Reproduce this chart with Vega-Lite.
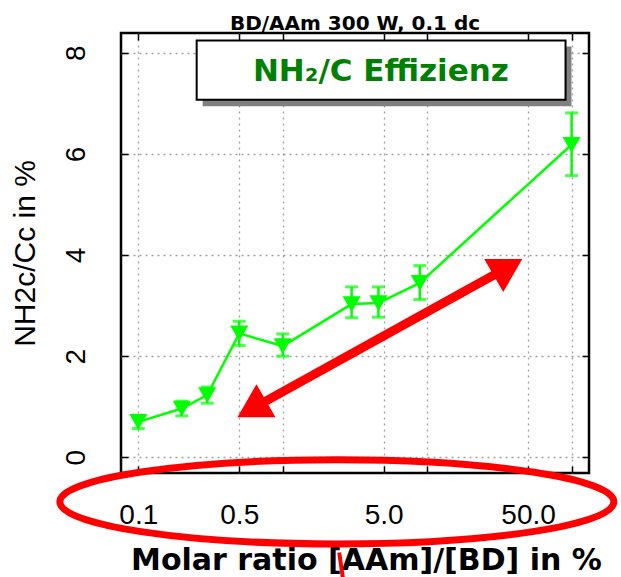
{
  "$schema": "https://vega.github.io/schema/vega-lite/v6.json",
  "width": 468,
  "height": 440,
  "autosize": {"type": "none"},
  "padding": {"left": 121, "top": 33, "right": 32, "bottom": 104},
  "background": "white",
  "title": {
    "text": "BD/AAm 300 W, 0.1 dc",
    "font": "DejaVu Sans",
    "fontWeight": "bold",
    "fontSize": 20,
    "color": "black",
    "anchor": "middle",
    "baseline": "alphabetic",
    "offset": 5,
    "dy": 23
  },
  "config": {
    "view": {"stroke": "black", "strokeWidth": 2.5},
    "axis": {
      "labelColor": "black",
      "titleColor": "black",
      "tickColor": "black",
      "tickWidth": 1.5,
      "domain": false,
      "gridColor": "#a0a0a0",
      "gridDash": [2, 4],
      "gridWidth": 1.3
    }
  },
  "resolve": {"axis": {"x": "independent", "y": "independent"}},
  "datasets": {
    "pts": [
      {"ratio": 0.1, "eff": 0.70, "lo": 0.57, "hi": 0.83},
      {"ratio": 0.2, "eff": 0.965, "lo": 0.82, "hi": 1.11},
      {"ratio": 0.3, "eff": 1.23, "lo": 1.07, "hi": 1.39},
      {"ratio": 0.5, "eff": 2.45, "lo": 2.21, "hi": 2.69},
      {"ratio": 1.0, "eff": 2.2, "lo": 2.0, "hi": 2.44},
      {"ratio": 3.0, "eff": 3.03, "lo": 2.76, "hi": 3.37},
      {"ratio": 4.6, "eff": 3.05, "lo": 2.77, "hi": 3.37},
      {"ratio": 8.9, "eff": 3.45, "lo": 3.12, "hi": 3.79},
      {"ratio": 100, "eff": 6.18, "lo": 5.57, "hi": 6.81}
    ],
    "shadow": [{"x1": 0.279, "x2": 99.8, "y1": 6.941, "y2": 8.123}],
    "box": [{"x1": 0.2536, "x2": 90.8, "y1": 7.069, "y2": 8.241}],
    "label": [{"x": 4.78, "y": 7.445, "text": "NH₂/C Effizienz"}],
    "arrow": [{"x1": 0.61, "y1": 0.957, "x2": 36.3, "y2": 3.757}],
    "heads": [
      {"end": "low", "x": 0.61, "y": 0.957},
      {"end": "high", "x": 36.3, "y": 3.757}
    ],
    "ellipse": [{"x": 2.37, "y": -0.88}],
    "stroke": [{"x1": 2.46, "x2": 2.62, "y1": -1.883, "y2": -2.42}]
  },
  "layer": [
    {
      "data": {"name": "pts"},
      "mark": {"type": "line", "color": "#00ff00", "strokeWidth": 2.5},
      "encoding": {
        "x": {
          "field": "ratio",
          "type": "quantitative",
          "scale": {"type": "log", "domain": [0.0759, 132], "nice": false},
          "axis": {
            "orient": "bottom",
            "values": [0.1, 0.5, 1, 5, 10, 50, 100],
            "labelExpr": "indexof([0.1, 0.5, 5, 50], datum.value) >= 0 ? format(datum.value, '.1f') : ''",
            "labelFont": "Liberation Sans",
            "labelFontSize": 28,
            "labelPadding": 35,
            "labelFlush": false,
            "labelOverlap": false,
            "tickSize": -7,
            "grid": true,
            "title": "Molar ratio [AAm]/[BD] in %",
            "titleFont": "DejaVu Sans",
            "titleFontWeight": "bold",
            "titleFontSize": 30,
            "titlePadding": 16,
            "titleX": 245
          }
        },
        "y": {
          "field": "eff",
          "type": "quantitative",
          "scale": {"domain": [-0.31, 8.39], "nice": false, "zero": false},
          "axis": {
            "orient": "left",
            "values": [0, 2, 4, 6, 8],
            "labelAngle": -90,
            "labelAlign": "center",
            "labelBaseline": "alphabetic",
            "labelFont": "Liberation Sans",
            "labelFontSize": 28,
            "labelPadding": 44,
            "tickSize": -7,
            "grid": true,
            "title": "NH2c/Cc in %",
            "titleFont": "Liberation Sans",
            "titleFontWeight": "normal",
            "titleFontSize": 30,
            "titlePadding": 22
          }
        }
      }
    },
    {
      "data": {"name": "pts"},
      "mark": {"type": "point", "opacity": 0},
      "encoding": {
        "x": {
          "field": "ratio",
          "type": "quantitative",
          "axis": {"orient": "top", "values": [0.1, 0.5, 1, 5, 10, 50, 100], "labels": false, "grid": false, "tickSize": -7, "title": null}
        },
        "y": {
          "field": "eff",
          "type": "quantitative",
          "axis": {"orient": "right", "values": [0, 2, 4, 6, 8], "labels": false, "grid": false, "tickSize": -7, "title": null}
        }
      }
    },
    {
      "data": {"name": "shadow"},
      "mark": {"type": "rect", "color": "#808080"},
      "encoding": {
        "x": {"field": "x1", "type": "quantitative", "axis": null},
        "x2": {"field": "x2"},
        "y": {"field": "y1", "type": "quantitative", "axis": null},
        "y2": {"field": "y2"}
      }
    },
    {
      "data": {"name": "box"},
      "mark": {"type": "rect", "fill": "white", "stroke": "black", "strokeWidth": 2},
      "encoding": {
        "x": {"field": "x1", "type": "quantitative", "axis": null},
        "x2": {"field": "x2"},
        "y": {"field": "y1", "type": "quantitative", "axis": null},
        "y2": {"field": "y2"}
      }
    },
    {
      "data": {"name": "label"},
      "mark": {"type": "text", "color": "#008000", "font": "DejaVu Sans", "fontWeight": "bold", "fontSize": 31, "align": "center", "baseline": "alphabetic"},
      "encoding": {
        "x": {"field": "x", "type": "quantitative", "axis": null},
        "y": {"field": "y", "type": "quantitative", "axis": null},
        "text": {"field": "text"}
      }
    },
    {
      "data": {"name": "pts"},
      "mark": {"type": "rule", "color": "#00ff00", "strokeWidth": 2.5},
      "encoding": {
        "x": {"field": "ratio", "type": "quantitative", "axis": null},
        "y": {"field": "lo", "type": "quantitative", "axis": null},
        "y2": {"field": "hi"}
      }
    },
    {
      "data": {"name": "pts"},
      "mark": {"type": "tick", "color": "#00ff00", "orient": "horizontal", "size": 13, "thickness": 3},
      "encoding": {
        "x": {"field": "ratio", "type": "quantitative", "axis": null},
        "y": {"field": "lo", "type": "quantitative", "axis": null}
      }
    },
    {
      "data": {"name": "pts"},
      "mark": {"type": "tick", "color": "#00ff00", "orient": "horizontal", "size": 13, "thickness": 3},
      "encoding": {
        "x": {"field": "ratio", "type": "quantitative", "axis": null},
        "y": {"field": "hi", "type": "quantitative", "axis": null}
      }
    },
    {
      "data": {"name": "pts"},
      "mark": {"type": "point", "shape": "triangle-down", "filled": true, "color": "#00ff00", "size": 330, "opacity": 1},
      "encoding": {
        "x": {"field": "ratio", "type": "quantitative", "axis": null},
        "y": {"field": "eff", "type": "quantitative", "axis": null}
      }
    },
    {
      "data": {"name": "arrow"},
      "mark": {"type": "rule", "color": "#ff0000", "strokeWidth": 9},
      "encoding": {
        "x": {"field": "x1", "type": "quantitative", "axis": null},
        "y": {"field": "y1", "type": "quantitative", "axis": null},
        "x2": {"field": "x2"},
        "y2": {"field": "y2"}
      }
    },
    {
      "data": {"name": "heads"},
      "transform": [{"filter": "datum.end === 'high'"}],
      "mark": {"type": "point", "shape": "triangle-up", "filled": true, "color": "#ff0000", "opacity": 1, "size": 1450, "angle": 60},
      "encoding": {
        "x": {"field": "x", "type": "quantitative", "axis": null},
        "y": {"field": "y", "type": "quantitative", "axis": null}
      }
    },
    {
      "data": {"name": "heads"},
      "transform": [{"filter": "datum.end === 'low'"}],
      "mark": {"type": "point", "shape": "triangle-up", "filled": true, "color": "#ff0000", "opacity": 1, "size": 1450, "angle": 240},
      "encoding": {
        "x": {"field": "x", "type": "quantitative", "axis": null},
        "y": {"field": "y", "type": "quantitative", "axis": null}
      }
    },
    {
      "data": {"name": "ellipse"},
      "mark": {"type": "point", "shape": "M-1,0A1,0.152,0,1,0,1,0A1,0.152,0,1,0,-1,0Z", "filled": false, "stroke": "#ff0000", "strokeWidth": 7, "opacity": 1, "size": 306916},
      "encoding": {
        "x": {"field": "x", "type": "quantitative", "axis": null},
        "y": {"field": "y", "type": "quantitative", "axis": null}
      }
    },
    {
      "data": {"name": "stroke"},
      "mark": {"type": "rule", "color": "#ff0000", "strokeWidth": 4},
      "encoding": {
        "x": {"field": "x1", "type": "quantitative", "axis": null},
        "y": {"field": "y1", "type": "quantitative", "axis": null},
        "x2": {"field": "x2"},
        "y2": {"field": "y2"}
      }
    }
  ]
}
